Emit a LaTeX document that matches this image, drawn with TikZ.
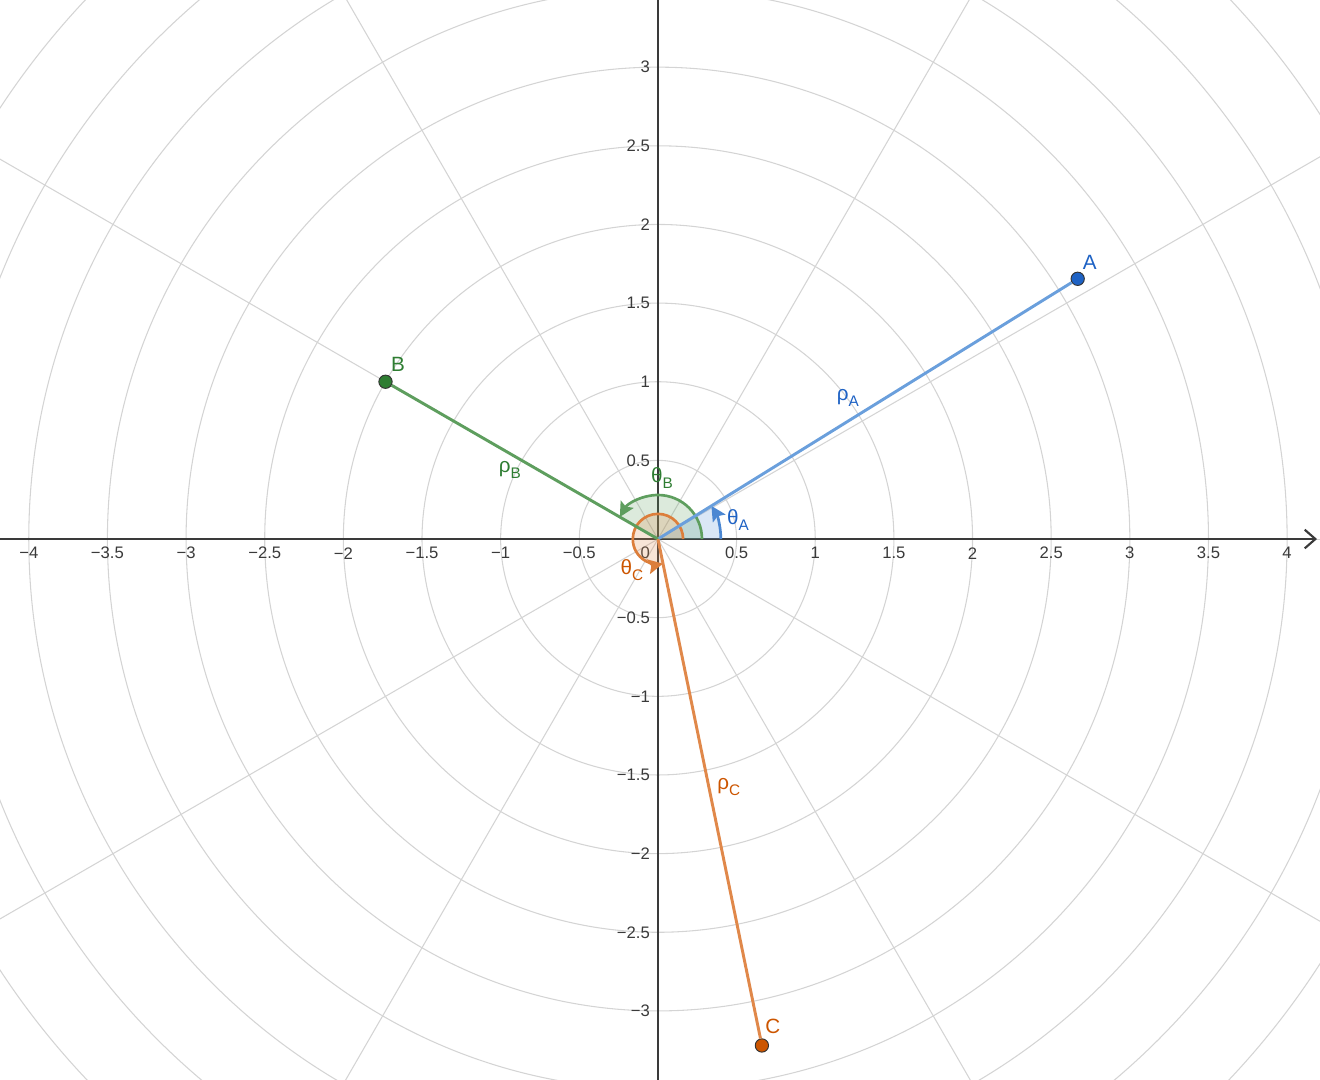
\documentclass[tikz,border=0pt]{standalone}
\usepackage{fontspec}
\setmainfont{Liberation Sans}
\usetikzlibrary{arrows.meta}

\definecolor{gridgray}{HTML}{D4D4D4}
\definecolor{axisgray}{HTML}{3A3A3A}
\definecolor{ablue}{HTML}{1E62C4}
\definecolor{abluelight}{HTML}{6A9FDC}
\definecolor{bgreen}{HTML}{2E7D32}
\definecolor{bgreenlight}{HTML}{5E9E5E}
\definecolor{corange}{HTML}{CC5500}
\definecolor{corangelight}{HTML}{E0884A}

\newcommand{\lowsub}[1]{\raisebox{-0.55ex}{\fontsize{11.5}{12}\selectfont #1}}

\begin{document}
\begin{tikzpicture}[x=118pt, y=118pt, >=Stealth,
  every node/.style={inner sep=0pt},
  pt/.style={circle, draw=black!80, line width=0.7pt, minimum size=10pt},
  ticklab/.style={font=\fontsize{12.5}{14}\selectfont, text=axisgray},
  lab/.style={font=\fontsize{15.5}{18}\selectfont},
  seg/.style={line width=2.2pt},
  angarc/.style={line width=2pt, -{Stealth[length=11pt,width=11pt,inset=2pt]}}]
  \useasboundingbox (-4.183,-3.439) rectangle (4.209,3.427);
  % polar grid
  \begin{scope}
    \clip (-4.183,-3.439) rectangle (4.209,3.427);
    \foreach \r in {0.5,1,...,5.5}
      \draw[gridgray, line width=0.8pt] (0,0) circle[radius=\r];
    \foreach \a in {30,60,...,360}
      \draw[gridgray, line width=0.8pt] (0,0) -- (\a:6);
  \end{scope}
  % axes
  \coordinate (O) at (0,0);
  \coordinate (xl) at (-4.183,0); \coordinate (xr) at (4.19,0);
  \coordinate (yb) at (0,-3.439); \coordinate (yt) at (0,3.427);
  \draw[axisgray, line width=1.6pt, -{Straight Barb[length=8pt,width=14pt]}] (xl) -- (xr);
  \draw[axisgray, line width=1.6pt] (yb) -- (yt);
  \foreach \x/\t in {-4/−4,-3.5/−3.5,-3/−3,-2.5/−2.5,-2/−2,-1.5/−1.5,-1/−1,-0.5/−0.5,
      0.5/0.5,1/1,1.5/1.5,2/2,2.5/2.5,3/3,3.5/3.5,4/4}
    \node[ticklab] (xt\x) at (\x,-0.09) {\t};
  \foreach \y/\t in {-3/−3,-2.5/−2.5,-2/−2,-1.5/−1.5,-1/−1,-0.5/−0.5,
      0.5/0.5,1/1,1.5/1.5,2/2,2.5/2.5,3/3}
    \node[ticklab, anchor=east] (yt\y) at (-0.05,\y) {\t};
  \node[ticklab, anchor=east] (zero) at (-0.05,-0.085) {0};

  % angles
  \fill[abluelight, fill opacity=0.25] (O) -- (0.4,0) arc[start angle=0, end angle=31.8, radius=0.4] -- cycle;
  \fill[bgreenlight, fill opacity=0.22] (O) -- (0.28,0) arc[start angle=0, end angle=150, radius=0.28] -- cycle;
  \fill[corangelight, fill opacity=0.22] (O) -- (0.16,0) arc[start angle=0, end angle=281.6, radius=0.16] -- cycle;
  \draw[angarc, abluelight!60!ablue] (0.4,0) arc[start angle=0, end angle=31.8, radius=0.4];
  \draw[angarc, bgreenlight] (0.28,0) arc[start angle=0, end angle=150, radius=0.28];
  \draw[angarc, corangelight!80!corange] (0.16,0) arc[start angle=0, end angle=281.6, radius=0.16];

  % points and radii
  \node[pt, fill=ablue] (A) at (31.8:3.14) {};
  \node[pt, fill=bgreen] (B) at (150:2) {};
  \node[pt, fill=corange] (C) at (-78.4:3.287) {};
  \draw[seg, abluelight] (O) -- (A);
  \draw[seg, bgreenlight] (O) -- (B);
  \draw[seg, corangelight] (O) -- (C);

  % labels
  \node[lab, text=ablue] (labA) at (2.746,1.761) {A};
  \node[lab, text=bgreen] (labB) at (-1.653,1.113) {B};
  \node[lab, text=corange] (labC) at (0.731,-3.096) {C};
  \node[lab, text=ablue] (rhoA) at (1.208,0.896) {ρ\lowsub{A}};
  \node[lab, text=bgreen] (rhoB) at (-0.941,0.439) {ρ\lowsub{B}};
  \node[lab, text=corange] (rhoC) at (0.451,-1.577) {ρ\lowsub{C}};
  \node[lab, text=ablue] (thA) at (0.509,0.121) {θ\lowsub{A}};
  \node[lab, text=bgreen] (thB) at (0.025,0.388) {θ\lowsub{B}};
  \node[lab, text=corange] (thC) at (-0.165,-0.197) {θ\lowsub{C}};
\end{tikzpicture}
\end{document}
